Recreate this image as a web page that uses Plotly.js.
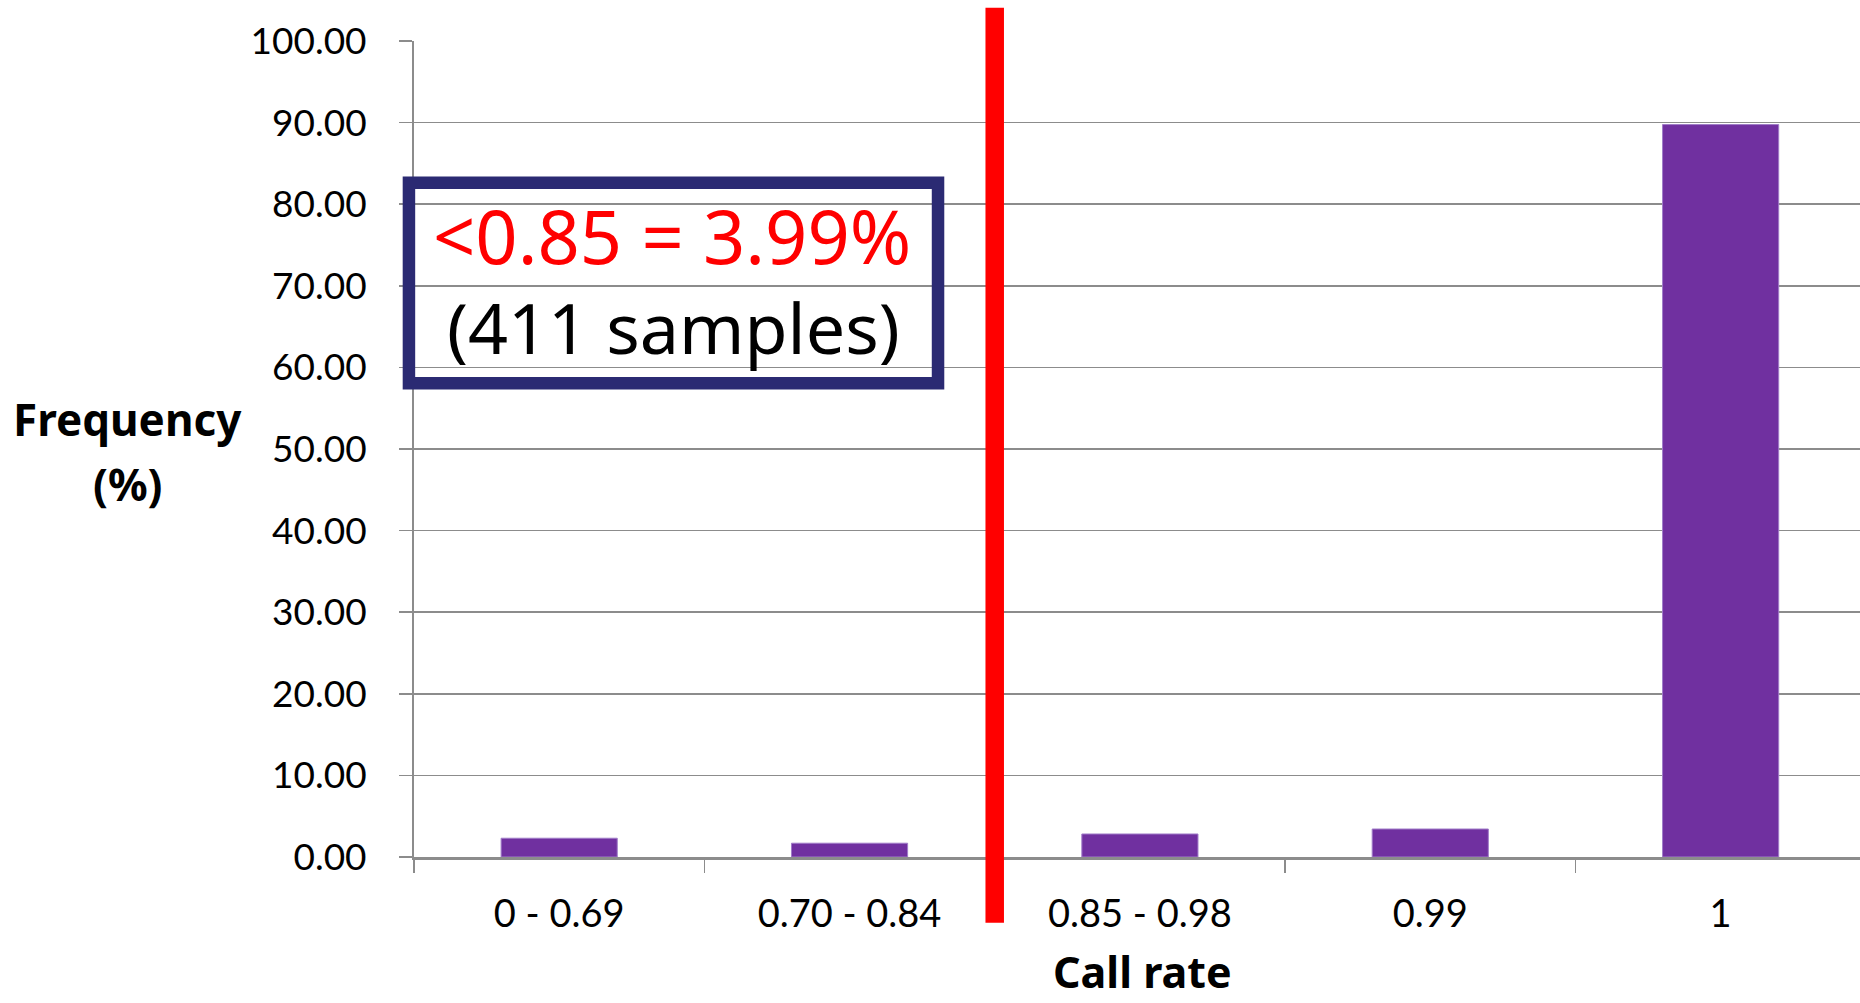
<!DOCTYPE html>
<html>
<head>
<meta charset="utf-8">
<script src="https://cdn.plot.ly/plotly-3.0.1.min.js"></script>
<style>
  html, body { margin: 0; padding: 0; background: #ffffff; }
  #chart { width: 1860px; height: 1003px; }
</style>
</head>
<body>
<div id="chart"></div>
<script>
// Call-rate bins and the share of samples (%) falling into each
const callRateBins = ['0 - 0.69', '0.70 - 0.84', '0.85 - 0.98', '0.99', '1'];
const frequencyPct = [2.30, 1.69, 2.82, 3.43, 89.76];

// Summary of the samples below the 0.85 call-rate cut-off
const cutoffLabel = '<0.85 = 3.99%';
const cutoffSamples = '(411 samples)';

const yTickValues = [0, 10, 20, 30, 40, 50, 60, 70, 80, 90, 100];

const gridGrey = '#8c8c8c';
const tickFamily = '"Century Gothic", Lato, sans-serif';
const handFont = '"Comic Sans MS", "Noto Sans", sans-serif';

const bars = {
  type: 'bar',
  x: callRateBins,
  y: frequencyPct,
  marker: { color: '#7030a0', line: { color: '#a07cc8', width: 1 } },
  hoverinfo: 'x+y'
};

const layout = {
  width: 1860,
  height: 1003,
  margin: { l: 414, r: 0, t: 41, b: 146, pad: 0 },
  paper_bgcolor: '#ffffff',
  plot_bgcolor: '#ffffff',
  showlegend: false,
  bargap: 0.6,
  xaxis: {
    type: 'category',
    range: [-0.5, 4.48],
    tickson: 'boundaries',
    ticks: 'outside',
    ticklen: 13,
    tickwidth: 1.5,
    tickcolor: gridGrey,
    showgrid: false,
    showline: true,
    linecolor: gridGrey,
    linewidth: 2.5,
    zeroline: false,
    tickfont: { family: tickFamily, size: 38, color: '#000000' },
    ticklabelstandoff: 22
  },
  yaxis: {
    range: [0, 100],
    tickvals: yTickValues,
    tickformat: '.2f',
    ticks: 'outside',
    ticklen: 13,
    tickwidth: 1.5,
    tickcolor: gridGrey,
    showgrid: true,
    gridcolor: gridGrey,
    gridwidth: 1.5,
    showline: true,
    linecolor: gridGrey,
    linewidth: 2,
    zeroline: false,
    tickfont: { family: tickFamily, size: 37, color: '#000000' },
    ticklabelstandoff: 25
  },
  shapes: [
    // cut-off marker between the 0.70-0.84 and 0.85-0.98 bins
    {
      type: 'line', layer: 'above',
      xref: 'x', x0: 1.5, x1: 1.5,
      yref: 'paper', y0: -0.0805, y1: 1.0408,
      line: { color: '#ff0000', width: 18.5 }
    },
    // frame around the cut-off summary
    {
      type: 'rect', layer: 'above',
      xref: 'paper', x0: -0.0035, x1: 0.3624,
      yref: 'paper', y0: 0.5806, y1: 0.8263,
      fillcolor: 'rgba(0,0,0,0)',
      line: { color: '#2b2a73', width: 12.5 }
    }
  ],
  annotations: [
    {
      text: cutoffLabel, showarrow: false,
      xref: 'paper', x: 0.1781, xanchor: 'center',
      yref: 'y', y: 76.2, yanchor: 'middle',
      font: { family: handFont, size: 74, color: '#ff0000' }
    },
    {
      text: cutoffSamples, showarrow: false,
      xref: 'paper', x: 0.1794, xanchor: 'center',
      yref: 'y', y: 64.9, yanchor: 'middle',
      font: { family: handFont, size: 70, color: '#000000' }
    },
    {
      text: '<b>Frequency</b>', showarrow: false,
      xref: 'paper', x: -0.1978, xanchor: 'center',
      yref: 'paper', y: 0.537, yanchor: 'middle',
      font: { family: handFont, size: 44, color: '#000000' }
    },
    {
      text: '<b>(%)</b>', showarrow: false,
      xref: 'paper', x: -0.1978, xanchor: 'center',
      yref: 'paper', y: 0.457, yanchor: 'middle',
      font: { family: handFont, size: 44, color: '#000000' }
    },
    {
      text: '<b>Call rate</b>', showarrow: false,
      xref: 'paper', x: 0.5035, xanchor: 'center',
      yref: 'paper', y: -0.1406, yanchor: 'middle',
      font: { family: handFont, size: 43, color: '#000000' }
    }
  ]
};

Plotly.newPlot('chart', [bars], layout, { displayModeBar: false, staticPlot: true });
</script>
</body>
</html>
